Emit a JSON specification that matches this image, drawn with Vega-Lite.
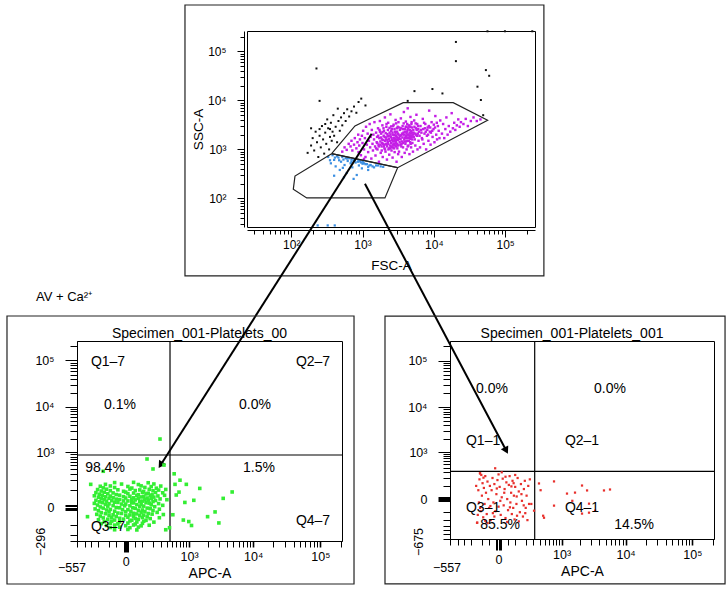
{
"$schema": "https://vega.github.io/schema/vega-lite/v6.json",
"padding": {"left": 5, "top": 3, "right": 3, "bottom": 3},
"config": {
  "font": "Liberation Sans",
  "view": {"stroke": "#000", "strokeWidth": 1},
  "axis": {"domainColor": "#000", "tickColor": "#000", "labelColor": "#000", "titleColor": "#000", "labelFont": "Liberation Sans", "titleFont": "Liberation Sans", "titleFontWeight": "normal", "grid": false, "labelFlush": false, "labelOverlap": false, "tickCount": 200}
},
"datasets": {
  "topFrame": [{"x": 3.24, "x2": 349300, "y": 2.6, "y2": 890600}],
  "frameL": [{"x": -7379, "x2": 316600, "y": -2993, "y2": 901900}],
  "frameR": [{"x": -6253, "x2": 306700, "y": -7062, "y2": 895300}],
  "qL": [{"x": 460, "y": 868}],
  "qR": [{"x": 319, "y": 321}],
  "labL": [{"x": -108, "y": 92750, "t": "Q1–7"}, {"x": 77950, "y": 92750, "t": "Q2–7"}, {"x": -28, "y": 11020, "t": "0.1%"}, {"x": 10630, "y": 11020, "t": "0.0%"}, {"x": -134, "y": 423, "t": "98.4%"}, {"x": 12200, "y": 423, "t": "1.5%"}, {"x": -108, "y": -113, "t": "Q3–7"}, {"x": 77950, "y": -66, "t": "Q4–7"}],
  "labR": [{"x": -33, "y": 24020, "t": "0.0%"}, {"x": 5810, "y": 24020, "t": "0.0%"}, {"x": -91, "y": 1803, "t": "Q1–1"}, {"x": 2145, "y": 1803, "t": "Q2–1"}, {"x": -91, "y": -58, "t": "Q3–1"}, {"x": 2145, "y": -58, "t": "Q4–1"}, {"x": 7, "y": -281, "t": "85.5%"}, {"x": 13400, "y": -281, "t": "14.5%"}],
  "titleL": [{"x": 1486, "y": 370000, "t": "Specimen_001-Platelets_00"}],
  "titleR": [{"x": 1485, "y": 369300, "t": "Specimen_001-Platelets_001"}],
  "negL": [{"x": -2220, "y": -314, "t": "−296"}],
  "negR": [{"x": -1859, "y": -800, "t": "−675"}],
  "minL": [{"x": -685, "y": -1319, "t": "−557"}],
  "minR": [{"x": -632, "y": -3157, "t": "−557"}],
  "avL": [{"x": -2658, "y": 2303000, "t": "AV + Ca²⁺"}],
  "gates": [{"g": "P1", "i": 0, "x": 369, "y": 817}, {"g": "P1", "i": 1, "x": 784, "y": 3008}, {"g": "P1", "i": 2, "x": 1143, "y": 3933}, {"g": "P1", "i": 3, "x": 3726, "y": 9000}, {"g": "P1", "i": 4, "x": 18690, "y": 9000}, {"g": "P1", "i": 5, "x": 56780, "y": 3933}, {"g": "P1", "i": 6, "x": 3107, "y": 423}, {"g": "P1", "i": 7, "x": 369, "y": 817},
            {"g": "P2", "i": 0, "x": 369, "y": 817}, {"g": "P2", "i": 1, "x": 3107, "y": 423}, {"g": "P2", "i": 2, "x": 2063, "y": 102}, {"g": "P2", "i": 3, "x": 165, "y": 102}, {"g": "P2", "i": 4, "x": 107, "y": 153}, {"g": "P2", "i": 5, "x": 113, "y": 286}, {"g": "P2", "i": 6, "x": 369, "y": 817}],
  "arrows": [{"a": 1, "i": 0, "x": 1343, "y": 2093}, {"a": 1, "i": 1, "x": 1.476, "y": 0.000357}, {"a": 2, "i": 0, "x": 1082, "y": 199}, {"a": 2, "i": 1, "x": 103500, "y": 0.000705}],
  "topP1": [
{"x":520,"y":900},{"x":560,"y":1100},{"x":600,"y":980},{"x":640,"y":1300},{"x":680,"y":1150},{"x":700,"y":1500},{"x":720,"y":950},{"x":760,"y":1250},{"x":780,"y":1700},{"x":820,"y":1050},{"x":850,"y":1400},{"x":870,"y":2000},{"x":900,"y":1200},{"x":880,"y":880},
{"x":920,"y":1600},{"x":950,"y":760},{"x":980,"y":1900},{"x":1000,"y":1350},{"x":1020,"y":2400},{"x":1050,"y":1000},{"x":1080,"y":1700},{"x":1100,"y":700},{"x":1120,"y":2900},{"x":1150,"y":1250},{"x":1180,"y":2100},{"x":1200,"y":880},{"x":1230,"y":1500},{"x":1260,"y":3300},{"x":1280,"y":1100},{"x":1300,"y":1800},{"x":1330,"y":650},{"x":1350,"y":2500},{"x":1380,"y":1300},{"x":1400,"y":950},{"x":1420,"y":2000},{"x":1450,"y":1600},{"x":1470,"y":3600},{"x":1500,"y":1150},{"x":1520,"y":750},{"x":1550,"y":2200},{"x":1580,"y":1400},{"x":1600,"y":1800},{"x":1050,"y":640},
{"x":1620,"y":1000},{"x":1650,"y":2700},{"x":1680,"y":1250},{"x":1700,"y":560},{"x":1720,"y":1700},{"x":1750,"y":3800},{"x":1780,"y":1450},{"x":1800,"y":850},{"x":1820,"y":2100},{"x":1850,"y":1150},{"x":1870,"y":1600},{"x":1900,"y":3100},{"x":1920,"y":700},{"x":1950,"y":1300},{"x":1980,"y":1900},{"x":2000,"y":2400},{"x":2030,"y":1050},{"x":2060,"y":4500},{"x":2080,"y":1500},{"x":2100,"y":900},{"x":2130,"y":1750},{"x":2160,"y":2900},{"x":2180,"y":1250},{"x":2200,"y":620},{"x":2230,"y":2050},{"x":2260,"y":1400},{"x":2290,"y":3500},{"x":2310,"y":1000},{"x":2340,"y":1650},{"x":2370,"y":780},{"x":2400,"y":2200},{"x":2430,"y":1200},{"x":2460,"y":5200},{"x":2490,"y":1800},{"x":2520,"y":1350},{"x":2550,"y":950},{"x":2580,"y":2600},{"x":2610,"y":1550},{"x":2640,"y":680},{"x":2670,"y":2000},{"x":2700,"y":1100},{"x":2730,"y":3200},{"x":2760,"y":1700},{"x":2790,"y":1300},{"x":2820,"y":880},{"x":2850,"y":2300},{"x":2880,"y":1450},{"x":2910,"y":4000},{"x":2940,"y":1900},{"x":2970,"y":1150},{"x":3000,"y":560},{"x":3030,"y":2700},{"x":3060,"y":1600},{"x":3100,"y":1250},{"x":3130,"y":2100},{"x":3160,"y":800},{"x":3190,"y":3600},{"x":1760,"y":2300},{"x":1990,"y":1150},{"x":2250,"y":1850},{"x":2520,"y":2950},{"x":2800,"y":1550},{"x":3100,"y":1750},{"x":2150,"y":1300},{"x":2450,"y":1050},{"x":1880,"y":1350},{"x":2650,"y":1250},{"x":2950,"y":1350},
{"x":3250,"y":900},{"x":3300,"y":1700},{"x":3350,"y":2500},{"x":3400,"y":1250},{"x":3450,"y":4300},{"x":3500,"y":1950},{"x":3550,"y":700},{"x":3600,"y":1450},{"x":3650,"y":3000},{"x":3700,"y":1100},{"x":3750,"y":2200},{"x":3800,"y":5800},{"x":3850,"y":1600},{"x":3900,"y":850},{"x":3950,"y":2600},{"x":4000,"y":1300},{"x":4050,"y":3700},{"x":4100,"y":1900},{"x":4150,"y":1000},{"x":4200,"y":2300},{"x":4250,"y":1500},{"x":4300,"y":6900},{"x":4350,"y":2000},{"x":4400,"y":1200},{"x":4450,"y":3100},{"x":4500,"y":1700},{"x":4550,"y":800},{"x":4600,"y":2500},{"x":4650,"y":1400},{"x":4700,"y":4600},{"x":4750,"y":2100},{"x":4800,"y":1100},{"x":4850,"y":3300},{"x":4900,"y":1800},{"x":4950,"y":2800},{"x":5000,"y":1350},{"x":5100,"y":900},{"x":5200,"y":2200},{"x":5300,"y":3900},{"x":5400,"y":1600},{"x":5500,"y":1200},{"x":5600,"y":2700},{"x":5700,"y":5100},{"x":5800,"y":1900},{"x":5900,"y":1000},{"x":6000,"y":3000},{"x":6100,"y":1500},{"x":6200,"y":2300},{"x":3500,"y":1150},{"x":3900,"y":1750},{"x":4300,"y":1150},{"x":4700,"y":1650},{"x":5100,"y":2000},{"x":3650,"y":2050},{"x":4150,"y":2900},{"x":4600,"y":1900},
{"x":6400,"y":1100},{"x":6600,"y":2500},{"x":6800,"y":1700},{"x":7000,"y":4200},{"x":7200,"y":1300},{"x":7400,"y":2100},{"x":7600,"y":3300},{"x":7800,"y":1000},{"x":8000,"y":1900},{"x":8200,"y":2800},{"x":8400,"y":1500},{"x":8600,"y":6200},{"x":8800,"y":2300},{"x":9000,"y":1250},{"x":9300,"y":3600},{"x":9600,"y":1800},{"x":9900,"y":2600},{"x":10200,"y":1400},{"x":10500,"y":4800},{"x":10800,"y":2000},{"x":11100,"y":1600},{"x":11400,"y":3000},{"x":11700,"y":2400},{"x":12000,"y":1700},{"x":12300,"y":3900},{"x":6900,"y":1600},{"x":7500,"y":2700},{"x":8300,"y":2000},{"x":9100,"y":2200},{"x":10000,"y":3200},
{"x":13000,"y":2100},{"x":13500,"y":3300},{"x":14000,"y":1700},{"x":14500,"y":2600},{"x":15000,"y":4500},{"x":15600,"y":2000},{"x":16200,"y":3000},{"x":17000,"y":2300},{"x":17800,"y":5500},{"x":18500,"y":2700},{"x":19300,"y":3500},{"x":20000,"y":2500},{"x":21000,"y":3100},{"x":22000,"y":4100},{"x":23000,"y":2900},{"x":24000,"y":3600},
{"x":26000,"y":3300},{"x":28000,"y":4200},{"x":30000,"y":3000},{"x":33000,"y":3800},{"x":36000,"y":4500},{"x":40000,"y":3800},{"x":45000,"y":4100},
{"x":1550,"y":1050},{"x":1610,"y":1350},{"x":1660,"y":1900},{"x":1690,"y":1150},{"x":1730,"y":2500},{"x":1790,"y":1250},{"x":1830,"y":1750},{"x":1860,"y":950},{"x":1910,"y":2250},{"x":1940,"y":1550},{"x":1970,"y":2700},{"x":2010,"y":1250},{"x":2040,"y":1800},{"x":2070,"y":1000},{"x":2110,"y":2150},{"x":2140,"y":1600},{"x":2170,"y":3300},{"x":2210,"y":1150},{"x":2240,"y":1550},{"x":2270,"y":2500},{"x":2300,"y":1300},{"x":2330,"y":1900},{"x":2360,"y":1050},{"x":2390,"y":2750},{"x":2420,"y":1500},{"x":2470,"y":2000},{"x":2500,"y":1150},{"x":2530,"y":2400},{"x":2560,"y":1700},{"x":2600,"y":1100},{"x":2630,"y":2200},{"x":2660,"y":1450},{"x":2690,"y":3000},{"x":2720,"y":1250},{"x":2750,"y":1950},{"x":2780,"y":1050},{"x":2810,"y":2600},{"x":2840,"y":1650},{"x":2870,"y":1200},{"x":2900,"y":2100},{"x":2930,"y":1500},{"x":2960,"y":3400},{"x":2990,"y":1800},{"x":3020,"y":1300},{"x":3050,"y":2300},{"x":3080,"y":1050},{"x":3110,"y":2900},{"x":3140,"y":1550},{"x":3170,"y":1200},{"x":3200,"y":2000},{"x":3230,"y":1650},{"x":3270,"y":2800},{"x":3320,"y":1400},{"x":3370,"y":1900},{"x":3420,"y":1600},{"x":3470,"y":2700},{"x":3520,"y":1300},{"x":3570,"y":2100},{"x":3620,"y":1750},{"x":3680,"y":2600},{"x":3730,"y":1350},{"x":3780,"y":3400},{"x":3830,"y":2000},{"x":3880,"y":1450},{"x":3930,"y":2300},{"x":3980,"y":1700},{"x":4030,"y":2900},{"x":4080,"y":1450},{"x":4130,"y":2100},{"x":4180,"y":1700},{"x":4230,"y":3300},{"x":4280,"y":2500},{"x":4330,"y":1750},{"x":4380,"y":2700},{"x":4430,"y":2000},{"x":4480,"y":1500},{"x":4530,"y":3000},{"x":4580,"y":2200},{"x":4630,"y":1750},{"x":4680,"y":2900},{"x":4730,"y":1300},{"x":4780,"y":2400},{"x":4830,"y":1900},{"x":4880,"y":3600},{"x":4930,"y":2200},{"x":4980,"y":1600},{"x":5150,"y":2500},{"x":5250,"y":1800},{"x":5350,"y":2900},{"x":5450,"y":2100},{"x":5550,"y":3400},{"x":5650,"y":2000},{"x":5750,"y":2500},{"x":5850,"y":3300},{"x":5950,"y":2100},{"x":6050,"y":2600},{"x":6300,"y":1900},{"x":6500,"y":3000},{"x":6700,"y":2200},{"x":7100,"y":2600},{"x":7300,"y":3500},{"x":7700,"y":2300},{"x":8100,"y":2500},{"x":8500,"y":3000},{"x":8900,"y":2800},{"x":9500,"y":2400},{"x":10400,"y":2800},{"x":11000,"y":3500}],
  "topP2": [
{"x":330,"y":700},{"x":360,"y":520},{"x":380,"y":760},{"x":400,"y":610},{"x":420,"y":450},{"x":440,"y":720},{"x":460,"y":680},{"x":480,"y":380},{"x":500,"y":560},{"x":520,"y":700},{"x":540,"y":620},{"x":560,"y":480},{"x":580,"y":660},{"x":600,"y":330},{"x":620,"y":580},{"x":650,"y":660},{"x":680,"y":520},{"x":700,"y":620},{"x":720,"y":430},{"x":750,"y":610},{"x":780,"y":600},{"x":800,"y":540},{"x":830,"y":300},{"x":860,"y":560},{"x":890,"y":470},{"x":920,"y":570},{"x":950,"y":540},{"x":980,"y":410},{"x":1010,"y":560},{"x":1050,"y":520},{"x":1100,"y":500},{"x":1150,"y":500},{"x":1200,"y":380},{"x":1250,"y":470},{"x":1300,"y":480},{"x":1380,"y":450},{"x":1450,"y":430},{"x":1550,"y":470},{"x":1650,"y":470},{"x":1800,"y":450},{"x":1950,"y":440},{"x":350,"y":600},{"x":410,"y":680},{"x":470,"y":600},{"x":530,"y":420},{"x":610,"y":650},{"x":700,"y":560},{"x":880,"y":600},{"x":1000,"y":510},{"x":1200,"y":440},{"x":400,"y":290},{"x":550,"y":270},{"x":750,"y":250},{"x":235,"y":28},{"x":325,"y":28},{"x":408,"y":28}],
  "topOther": [
{"x":170,"y":850},{"x":190,"y":1200},{"x":200,"y":1700},{"x":210,"y":950},{"x":220,"y":2300},{"x":230,"y":1400},{"x":240,"y":700},{"x":250,"y":1900},{"x":260,"y":1100},{"x":270,"y":3000},{"x":280,"y":1600},{"x":290,"y":820},{"x":300,"y":2200},{"x":310,"y":1300},{"x":320,"y":4100},{"x":330,"y":2700},{"x":340,"y":1000},{"x":350,"y":1800},{"x":360,"y":3500},{"x":370,"y":1500},{"x":380,"y":2300},{"x":390,"y":5000},{"x":400,"y":1900},{"x":420,"y":2900},{"x":440,"y":1400},{"x":460,"y":3800},{"x":480,"y":2400},{"x":500,"y":4500},{"x":520,"y":3100},{"x":550,"y":5500},{"x":580,"y":3800},{"x":610,"y":6600},{"x":650,"y":4700},{"x":700,"y":6000},{"x":760,"y":7500},{"x":820,"y":5600},{"x":880,"y":9300},{"x":960,"y":10900},{"x":1100,"y":7900},{"x":250,"y":2600},{"x":300,"y":3300},{"x":350,"y":2600},{"x":450,"y":6800},{"x":250,"y":9800},{"x":190,"y":2700},
{"x":226,"y":45000},{"x":20400,"y":63500},{"x":20400,"y":156700},{"x":53700,"y":41700},{"x":59700,"y":31900},{"x":40900,"y":19100},{"x":45700,"y":10200},{"x":9550,"y":17100},{"x":5350,"y":15500},{"x":13200,"y":13900},{"x":4300,"y":9800},{"x":56500,"y":259000},{"x":99300,"y":259000},{"x":240000,"y":259000},{"x":49200,"y":5000}],
  "green": [
{"x":-60,"y":170},{"x":40,"y":173},{"x":150,"y":168},
{"x":-130,"y":150},{"x":-20,"y":153},{"x":70,"y":148},{"x":210,"y":154},
{"x":-180,"y":130},{"x":-90,"y":133},{"x":10,"y":128},{"x":90,"y":134},{"x":180,"y":127},{"x":300,"y":132},
{"x":-150,"y":115},{"x":-60,"y":118},{"x":30,"y":113},{"x":120,"y":119},{"x":240,"y":112},
{"x":-210,"y":100},{"x":-120,"y":103},{"x":-40,"y":98},{"x":20,"y":104},{"x":80,"y":97},{"x":160,"y":102},{"x":270,"y":96},{"x":380,"y":101},
{"x":-170,"y":88},{"x":-90,"y":91},{"x":-10,"y":86},{"x":50,"y":92},{"x":110,"y":85},{"x":200,"y":90},
{"x":-230,"y":76},{"x":-140,"y":79},{"x":-70,"y":74},{"x":0,"y":80},{"x":40,"y":73},{"x":100,"y":78},{"x":150,"y":72},{"x":230,"y":77},{"x":330,"y":75},
{"x":-190,"y":65},{"x":-110,"y":68},{"x":-50,"y":63},{"x":10,"y":69},{"x":70,"y":62},{"x":130,"y":67},{"x":190,"y":61},
{"x":-250,"y":55},{"x":-160,"y":58},{"x":-90,"y":53},{"x":-30,"y":59},{"x":20,"y":52},{"x":60,"y":57},{"x":110,"y":51},{"x":170,"y":56},{"x":260,"y":54},{"x":360,"y":58},
{"x":-200,"y":46},{"x":-130,"y":49},{"x":-70,"y":44},{"x":-10,"y":50},{"x":40,"y":43},{"x":90,"y":48},{"x":140,"y":42},{"x":210,"y":47},
{"x":-170,"y":38},{"x":-100,"y":41},{"x":-50,"y":36},{"x":0,"y":42},{"x":30,"y":35},{"x":70,"y":40},{"x":120,"y":34},{"x":180,"y":39},{"x":290,"y":37},
{"x":-230,"y":30},{"x":-140,"y":33},{"x":-80,"y":28},{"x":-30,"y":34},{"x":10,"y":27},{"x":50,"y":32},{"x":100,"y":26},{"x":150,"y":31},{"x":230,"y":29},{"x":400,"y":33},
{"x":-190,"y":23},{"x":-120,"y":26},{"x":-60,"y":21},{"x":-10,"y":27},{"x":30,"y":20},{"x":80,"y":25},{"x":130,"y":19},{"x":200,"y":24},
{"x":-250,"y":16},{"x":-160,"y":19},{"x":-100,"y":14},{"x":-40,"y":20},{"x":0,"y":13},{"x":40,"y":18},{"x":90,"y":12},{"x":160,"y":17},{"x":270,"y":15},
{"x":-210,"y":9},{"x":-130,"y":12},{"x":-70,"y":7},{"x":-20,"y":13},{"x":20,"y":6},{"x":60,"y":11},{"x":110,"y":5},{"x":180,"y":10},{"x":330,"y":8},
{"x":-180,"y":2},{"x":-110,"y":5},{"x":-50,"y":0},{"x":-5,"y":6},{"x":35,"y":-1},{"x":80,"y":4},{"x":140,"y":-2},{"x":220,"y":3},
{"x":-240,"y":-5},{"x":-150,"y":-2},{"x":-90,"y":-7},{"x":-30,"y":-1},{"x":10,"y":-8},{"x":50,"y":-3},{"x":100,"y":-9},{"x":170,"y":-4},{"x":280,"y":-6},
{"x":-200,"y":-12},{"x":-120,"y":-9},{"x":-60,"y":-14},{"x":-15,"y":-8},{"x":25,"y":-15},{"x":70,"y":-10},{"x":120,"y":-16},{"x":200,"y":-11},
{"x":-170,"y":-20},{"x":-100,"y":-17},{"x":-40,"y":-22},{"x":0,"y":-16},{"x":40,"y":-23},{"x":90,"y":-18},{"x":150,"y":-24},{"x":250,"y":-19},
{"x":-220,"y":-28},{"x":-130,"y":-25},{"x":-70,"y":-30},{"x":-20,"y":-24},{"x":20,"y":-31},{"x":60,"y":-26},{"x":110,"y":-32},{"x":190,"y":-27},{"x":340,"y":-29},
{"x":-180,"y":-37},{"x":-100,"y":-34},{"x":-50,"y":-39},{"x":0,"y":-33},{"x":40,"y":-40},{"x":80,"y":-35},{"x":140,"y":-41},
{"x":-150,"y":-47},{"x":-80,"y":-44},{"x":-30,"y":-49},{"x":10,"y":-43},{"x":50,"y":-50},{"x":100,"y":-45},{"x":170,"y":-51},{"x":280,"y":-46},
{"x":-200,"y":-58},{"x":-110,"y":-55},{"x":-60,"y":-60},{"x":-10,"y":-54},{"x":30,"y":-61},{"x":70,"y":-56},{"x":130,"y":-62},
{"x":-140,"y":-70},{"x":-80,"y":-67},{"x":-30,"y":-72},{"x":20,"y":-66},{"x":60,"y":-73},{"x":110,"y":-68},{"x":210,"y":-74},
{"x":-170,"y":-85},{"x":-90,"y":-82},{"x":-40,"y":-87},{"x":10,"y":-81},{"x":50,"y":-88},{"x":100,"y":-83},
{"x":-120,"y":-100},{"x":-60,"y":-97},{"x":0,"y":-102},{"x":40,"y":-96},{"x":90,"y":-103},{"x":160,"y":-98},
{"x":-90,"y":-118},{"x":-30,"y":-115},{"x":20,"y":-120},{"x":70,"y":-114},
{"x":-60,"y":-140},{"x":10,"y":-137},{"x":60,"y":-142},
{"x":672,"y":80},{"x":900,"y":150},{"x":1200,"y":30},{"x":2620,"y":-17},{"x":4800,"y":81},{"x":3500,"y":40},{"x":800,"y":-60},{"x":1500,"y":110},{"x":289,"y":1995},{"x":139,"y":700},{"x":550,"y":300},{"x":450,"y":-120},{"x":700,"y":200},{"x":2000,"y":-40},{"x":3000,"y":-80},{"x":600,"y":60},{"x":520,"y":-30},{"x":1100,"y":-100},{"x":350,"y":500},{"x":-150,"y":350},{"x":200,"y":400},{"x":-300,"y":150},{"x":-350,"y":-40},{"x":380,"y":-140},{"x":570,"y":150},{"x":850,"y":20},{"x":990,"y":-70}],
  "red": [
{"x":-140,"y":-240},{"x":-130,"y":60},{"x":-120,"y":180},{"x":-115,"y":280},{"x":-110,"y":-90},{"x":-100,"y":20},{"x":-95,"y":130},{"x":-90,"y":-160},{"x":-85,"y":80},{"x":-80,"y":-30},{"x":-75,"y":230},{"x":-70,"y":40},{"x":-65,"y":-120},{"x":-60,"y":150},{"x":-55,"y":0},{"x":-50,"y":-60},{"x":-45,"y":100},{"x":-40,"y":-200},{"x":-35,"y":60},{"x":-30,"y":200},{"x":-25,"y":-20},{"x":-20,"y":120},{"x":-15,"y":-90},{"x":-10,"y":30},{"x":-5,"y":170},{"x":0,"y":-50},{"x":0,"y":260},{"x":5,"y":90},{"x":10,"y":-130},{"x":15,"y":10},{"x":20,"y":190},{"x":25,"y":-40},{"x":30,"y":70},{"x":35,"y":-170},{"x":40,"y":140},{"x":45,"y":0},{"x":50,"y":-80},{"x":55,"y":110},{"x":60,"y":230},{"x":65,"y":-20},{"x":70,"y":40},{"x":75,"y":-120},{"x":80,"y":160},{"x":85,"y":-60},{"x":90,"y":20},{"x":95,"y":-190},{"x":100,"y":90},{"x":110,"y":-30},{"x":120,"y":200},{"x":130,"y":50},{"x":140,"y":-100},{"x":150,"y":120},{"x":160,"y":-10},{"x":170,"y":-150},{"x":180,"y":70},{"x":190,"y":160},{"x":200,"y":-60},{"x":210,"y":20},{"x":220,"y":-200},{"x":230,"y":100},{"x":240,"y":-30},{"x":-125,"y":-20},{"x":-105,"y":250},{"x":-60,"y":-250},{"x":-20,"y":-150},{"x":15,"y":300},{"x":45,"y":-230},{"x":100,"y":250},{"x":130,"y":-220},{"x":-150,"y":100},{"x":-135,"y":-130},{"x":-75,"y":-210},{"x":8,"y":-10},{"x":28,"y":40},{"x":-8,"y":75},{"x":62,"y":-55},{"x":88,"y":130},{"x":-42,"y":-45},{"x":115,"y":-140},{"x":155,"y":30},{"x":195,"y":-110},{"x":250,"y":180},{"x":270,"y":-30},{"x":-88,"y":205},{"x":35,"y":220},{"x":-28,"y":-110},{"x":72,"y":95},{"x":112,"y":15},{"x":-115,"y":-60},{"x":178,"y":-40},
{"x":390,"y":127},{"x":741,"y":152},{"x":1229,"y":34},{"x":1659,"y":41},{"x":2145,"y":104},{"x":2575,"y":58},{"x":2760,"y":-28},{"x":3430,"y":-85},{"x":4700,"y":58},{"x":5810,"y":66},{"x":741,"y":-42},{"x":2145,"y":-115},{"x":2760,"y":-105},{"x":309,"y":-85},{"x":488,"y":-166},{"x":470,"y":-140},{"x":-16,"y":390},{"x":-116,"y":280},{"x":-142,"y":-244},{"x":420,"y":60},{"x":1500,"y":-10}]
},
"bounds": "flush",
"spacing": 310,
"vconcat": [
 {
  "bounds": "flush",
  "spacing": 108,
  "hconcat": [
  {
    "width": 62, "height": 10,
    "data": {"values": [{"k": 1}]},
    "mark": {"type": "point", "opacity": 0},
    "encoding": {},
    "view": {"stroke": null}
  },
  {
    "width": 288, "height": 196,
    "layer": [
      {
        "data": {"name": "topFrame"},
        "mark": {"type": "rect", "filled": false, "color": "#222", "strokeWidth": 1.2},
        "encoding": {
          "x": {"field": "x", "type": "quantitative", "title": "FSC-A",
                "scale": {"type": "log", "domain": [24, 262144], "nice": false},
                "axis": {"values": [30,40,50,60,70,80,90,100,200,300,400,500,600,700,800,900,1000,2000,3000,4000,5000,6000,7000,8000,9000,10000,20000,30000,40000,50000,60000,70000,80000,90000,100000,200000],
                         "labelExpr": "datum.value == 100 ? '10²' : datum.value == 1000 ? '10³' : datum.value == 10000 ? '10⁴' : datum.value == 100000 ? '10⁵' : ''",
                         "offset": 3, "labelOverlap": false, "tickCount": 200,
                         "tickSize": {"condition": {"test": "indexof([100,1000,10000,100000], datum.value) >= 0", "value": 7}, "value": 4},
                         "labelPadding": 2, "labelFontSize": 12, "titleFontSize": 13.5, "titlePadding": 8}},
          "x2": {"field": "x2"},
          "y": {"field": "y", "type": "quantitative", "title": "SSC-A",
                "scale": {"type": "log", "domain": [26, 262144], "nice": false},
                "axis": {"values": [30,40,50,60,70,80,90,100,200,300,400,500,600,700,800,900,1000,2000,3000,4000,5000,6000,7000,8000,9000,10000,20000,30000,40000,50000,60000,70000,80000,90000,100000,200000],
                         "labelExpr": "datum.value == 100 ? '10²' : datum.value == 1000 ? '10³' : datum.value == 10000 ? '10⁴' : datum.value == 100000 ? '10⁵' : ''",
                         "offset": 3, "labelOverlap": false, "tickCount": 200,
                         "tickSize": {"condition": {"test": "indexof([100,1000,10000,100000], datum.value) >= 0", "value": 7}, "value": 4},
                         "labelPadding": 11, "labelFontSize": 12, "titleFontSize": 13.5, "titlePadding": 2}},
          "y2": {"field": "y2"}
        }
      },
      {
        "data": {"name": "topOther"},
        "mark": {"type": "square", "size": 4, "color": "#111", "opacity": 1},
        "encoding": {"x": {"field": "x", "type": "quantitative"}, "y": {"field": "y", "type": "quantitative"}}
      },
      {
        "data": {"name": "topP2"},
        "mark": {"type": "square", "size": 5, "color": "#3b8fe2", "opacity": 1},
        "encoding": {"x": {"field": "x", "type": "quantitative"}, "y": {"field": "y", "type": "quantitative"}}
      },
      {
        "data": {"name": "topP1"},
        "mark": {"type": "square", "size": 6, "color": "#c41ee6", "opacity": 1},
        "encoding": {"x": {"field": "x", "type": "quantitative"}, "y": {"field": "y", "type": "quantitative"}}
      },
      {
        "data": {"name": "gates"},
        "mark": {"type": "line", "color": "#222", "strokeWidth": 1.2},
        "encoding": {"x": {"field": "x", "type": "quantitative"}, "y": {"field": "y", "type": "quantitative"}, "detail": {"field": "g"}, "order": {"field": "i"}}
      },
      {
        "data": {"name": "arrows"},
        "mark": {"type": "line", "color": "#000", "strokeWidth": 2},
        "encoding": {"x": {"field": "x", "type": "quantitative"}, "y": {"field": "y", "type": "quantitative"}, "detail": {"field": "a"}, "order": {"field": "i"}}
      },
      {
        "data": {"name": "arrows"},
        "transform": [{"filter": "datum.a == 1 && datum.i == 1"}],
        "mark": {"type": "point", "shape": "triangle-up", "filled": true, "color": "#000", "size": 70, "angle": 212.5, "opacity": 1},
        "encoding": {"x": {"field": "x", "type": "quantitative"}, "y": {"field": "y", "type": "quantitative"}}
      },
      {
        "data": {"name": "arrows"},
        "transform": [{"filter": "datum.a == 2 && datum.i == 1"}],
        "mark": {"type": "point", "shape": "triangle-up", "filled": true, "color": "#000", "size": 70, "angle": 152.1, "opacity": 1},
        "encoding": {"x": {"field": "x", "type": "quantitative"}, "y": {"field": "y", "type": "quantitative"}}
      }
    ]
  }
  ]
 },
 {
  "bounds": "flush",
  "spacing": 108,
  "hconcat": [
  {
    "width": 265, "height": 200,
    "layer": [
      {
        "data": {"name": "frameL"},
        "mark": {"type": "rect", "filled": false, "color": "#222", "strokeWidth": 1.2},
        "encoding": {
          "x": {"field": "x", "type": "quantitative", "title": "APC-A",
                "scale": {"type": "symlog", "constant": 130, "domain": [-557, 210000], "nice": false, "zero": false},
                "axis": {"values": [-557,-400,-300,-200,-100,-50,-10,-5,0,5,10,50,100,200,300,400,500,600,700,800,900,1000,2000,3000,4000,5000,6000,7000,8000,9000,10000,20000,30000,40000,50000,60000,70000,80000,90000,100000,200000],
                         "labelExpr": "datum.value == 0 ? '0' : datum.value == 1000 ? '10³' : datum.value == 10000 ? '10⁴' : datum.value == 100000 ? '10⁵' : ''",
                         "labelOverlap": false, "tickCount": 200,
                         "tickSize": {"condition": {"test": "abs(datum.value) <= 10", "value": 11}, "value": 6},
                         "tickWidth": {"condition": {"test": "indexof([1000,10000,100000], datum.value) >= 0", "value": 1.6}, "value": 1},
                         "labelPadding": 3, "labelFontSize": 12.5, "titleFontSize": 14, "titleY": 25, "titleBaseline": "top"}},
          "x2": {"field": "x2"},
          "y": {"field": "y", "type": "quantitative", "title": null,
                "scale": {"type": "symlog", "constant": 70, "domain": [-296, 262144], "nice": false, "zero": false},
                "axis": {"values": [-296,-200,-100,-10,-5,0,5,10,100,200,300,400,500,600,700,800,900,1000,2000,3000,4000,5000,6000,7000,8000,9000,10000,20000,30000,40000,50000,60000,70000,80000,90000,100000,200000],
                         "labelExpr": "datum.value == 0 ? '0' : datum.value == 1000 ? '10³' : datum.value == 10000 ? '10⁴' : datum.value == 100000 ? '10⁵' : ''",
                         "labelOverlap": false, "tickCount": 200,
                         "tickSize": {"condition": {"test": "abs(datum.value) <= 10 || indexof([1000,10000,100000], datum.value) >= 0", "value": 12}, "value": 7},
                         "labelPadding": 11, "labelFontSize": 12.5}},
          "y2": {"field": "y2"}
        }
      },
      {
        "data": {"name": "qL"},
        "mark": {"type": "rule", "color": "#000", "strokeWidth": 1.2},
        "encoding": {"x": {"field": "x", "type": "quantitative"}}
      },
      {
        "data": {"name": "qL"},
        "mark": {"type": "rule", "color": "#000", "strokeWidth": 1.2},
        "encoding": {"y": {"field": "y", "type": "quantitative"}}
      },
      {
        "data": {"name": "green"},
        "mark": {"type": "square", "size": 13, "color": "#33ee33", "opacity": 1},
        "encoding": {"x": {"field": "x", "type": "quantitative"}, "y": {"field": "y", "type": "quantitative"}}
      },
      {
        "data": {"name": "labL"},
        "mark": {"type": "text", "fontSize": 14, "align": "center", "baseline": "middle", "color": "#000"},
        "encoding": {"x": {"field": "x", "type": "quantitative"}, "y": {"field": "y", "type": "quantitative"}, "text": {"field": "t"}}
      },
      {
        "data": {"name": "titleL"},
        "mark": {"type": "text", "fontSize": 14, "align": "center", "baseline": "middle", "color": "#000"},
        "encoding": {"x": {"field": "x", "type": "quantitative"}, "y": {"field": "y", "type": "quantitative"}, "text": {"field": "t"}}
      },
      {
        "data": {"name": "minL"},
        "mark": {"type": "text", "fontSize": 12.5, "align": "center", "baseline": "middle", "color": "#000"},
        "encoding": {"x": {"field": "x", "type": "quantitative"}, "y": {"field": "y", "type": "quantitative"}, "text": {"field": "t"}}
      },
      {
        "data": {"name": "negL"},
        "mark": {"type": "text", "fontSize": 12.5, "align": "center", "baseline": "middle", "angle": 270, "color": "#000"},
        "encoding": {"x": {"field": "x", "type": "quantitative"}, "y": {"field": "y", "type": "quantitative"}, "text": {"field": "t"}}
      },
      {
        "data": {"name": "avL"},
        "mark": {"type": "text", "fontSize": 13, "align": "left", "baseline": "middle", "color": "#000"},
        "encoding": {"x": {"field": "x", "type": "quantitative"}, "y": {"field": "y", "type": "quantitative"}, "text": {"field": "t"}}
      }
    ]
  },
  {
    "width": 264, "height": 198,
    "layer": [
      {
        "data": {"name": "frameR"},
        "mark": {"type": "rect", "filled": false, "color": "#222", "strokeWidth": 1.2},
        "encoding": {
          "x": {"field": "x", "type": "quantitative", "title": "APC-A",
                "scale": {"type": "symlog", "constant": 130, "domain": [-557, 210000], "nice": false, "zero": false},
                "axis": {"values": [-557,-400,-300,-200,-100,-50,-10,-5,0,5,10,50,100,200,300,400,500,600,700,800,900,1000,2000,3000,4000,5000,6000,7000,8000,9000,10000,20000,30000,40000,50000,60000,70000,80000,90000,100000,200000],
                         "labelExpr": "datum.value == 0 ? '0' : datum.value == 1000 ? '10³' : datum.value == 10000 ? '10⁴' : datum.value == 100000 ? '10⁵' : ''",
                         "labelOverlap": false, "tickCount": 200,
                         "tickSize": {"condition": {"test": "abs(datum.value) <= 10", "value": 11}, "value": 6},
                         "tickWidth": {"condition": {"test": "indexof([1000,10000,100000], datum.value) >= 0", "value": 1.6}, "value": 1},
                         "labelPadding": 3, "labelFontSize": 12.5, "titleFontSize": 14, "titleY": 25, "titleBaseline": "top"}},
          "x2": {"field": "x2"},
          "y": {"field": "y", "type": "quantitative", "title": null,
                "scale": {"type": "symlog", "constant": 110, "domain": [-675, 262144], "nice": false, "zero": false},
                "axis": {"values": [-675,-500,-400,-300,-200,-100,-10,-5,0,5,10,100,200,300,400,500,600,700,800,900,1000,2000,3000,4000,5000,6000,7000,8000,9000,10000,20000,30000,40000,50000,60000,70000,80000,90000,100000,200000],
                         "labelExpr": "datum.value == 0 ? '0' : datum.value == 1000 ? '10³' : datum.value == 10000 ? '10⁴' : datum.value == 100000 ? '10⁵' : ''",
                         "labelOverlap": false, "tickCount": 200,
                         "tickSize": {"condition": {"test": "abs(datum.value) <= 10 || indexof([1000,10000,100000], datum.value) >= 0", "value": 12}, "value": 7},
                         "labelPadding": 11, "labelFontSize": 12.5}},
          "y2": {"field": "y2"}
        }
      },
      {
        "data": {"name": "qR"},
        "mark": {"type": "rule", "color": "#000", "strokeWidth": 1.2},
        "encoding": {"x": {"field": "x", "type": "quantitative"}}
      },
      {
        "data": {"name": "qR"},
        "mark": {"type": "rule", "color": "#000", "strokeWidth": 1.2},
        "encoding": {"y": {"field": "y", "type": "quantitative"}}
      },
      {
        "data": {"name": "red"},
        "mark": {"type": "square", "size": 5, "color": "#e8302c", "opacity": 1},
        "encoding": {"x": {"field": "x", "type": "quantitative"}, "y": {"field": "y", "type": "quantitative"}}
      },
      {
        "data": {"name": "labR"},
        "mark": {"type": "text", "fontSize": 14, "align": "center", "baseline": "middle", "color": "#000"},
        "encoding": {"x": {"field": "x", "type": "quantitative"}, "y": {"field": "y", "type": "quantitative"}, "text": {"field": "t"}}
      },
      {
        "data": {"name": "titleR"},
        "mark": {"type": "text", "fontSize": 14, "align": "center", "baseline": "middle", "color": "#000"},
        "encoding": {"x": {"field": "x", "type": "quantitative"}, "y": {"field": "y", "type": "quantitative"}, "text": {"field": "t"}}
      },
      {
        "data": {"name": "minR"},
        "mark": {"type": "text", "fontSize": 12.5, "align": "center", "baseline": "middle", "color": "#000"},
        "encoding": {"x": {"field": "x", "type": "quantitative"}, "y": {"field": "y", "type": "quantitative"}, "text": {"field": "t"}}
      },
      {
        "data": {"name": "negR"},
        "mark": {"type": "text", "fontSize": 12.5, "align": "center", "baseline": "middle", "angle": 270, "color": "#000"},
        "encoding": {"x": {"field": "x", "type": "quantitative"}, "y": {"field": "y", "type": "quantitative"}, "text": {"field": "t"}}
      }
    ]
  }
  ]
 }
]
}
